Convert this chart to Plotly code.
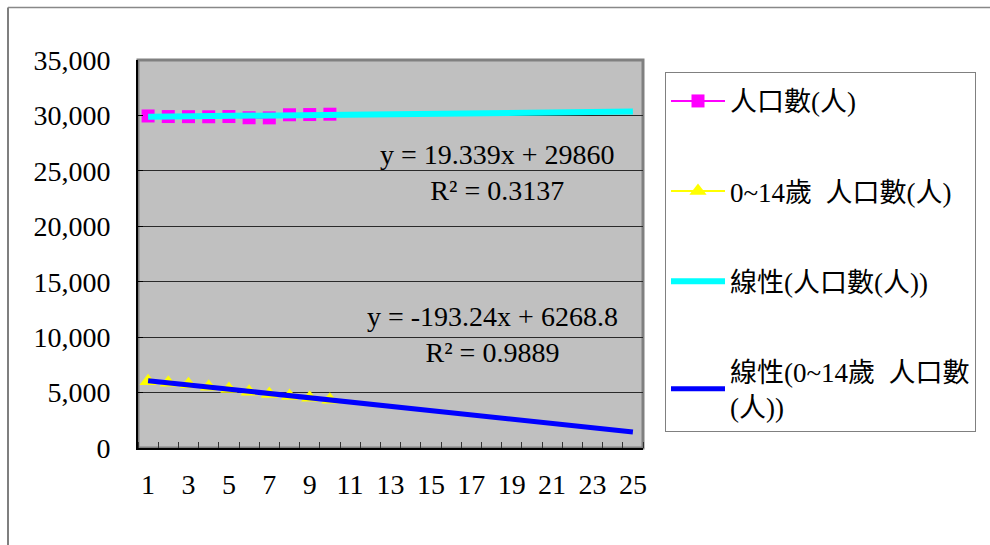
import numpy as np
import plotly.graph_objects as go

# Years index (1..10 observed, trend projected to 25)
periods = list(range(1, 11))
trend_periods = list(range(1, 26))
x_tick_labels = [str(v) for v in range(1, 26, 2)]

# Observed series
total_pop = [29950, 29900, 29890, 29880, 29900, 29790, 29780, 30060, 30080, 30110]
child_pop = [6020, 5880, 5750, 5530, 5330, 5070, 4860, 4680, 4540, 4350]

# Linear trend coefficients (slope, intercept) and R² shown on the chart
total_slope, total_intercept, total_r2 = 19.339, 29860, 0.3137
child_slope, child_intercept, child_r2 = -193.24, 6268.8, 0.9889

total_trend = [total_slope * t + total_intercept for t in trend_periods]
child_trend = [child_slope * t + child_intercept for t in trend_periods]

FONT = "Liberation Serif, Noto Sans CJK TC, serif"

# Plot area in pixels
L, R, T, B = 138, 643, 60, 448
W, H = 990, 545
pw, ph = R - L, B - T


def px_x(px):
    return (px - L) / pw


def px_y(py):
    return (B - py) / ph


fig = go.Figure()

fig.add_trace(go.Scatter(
    x=periods, y=total_pop, name="人口數(人)", mode="lines+markers",
    line=dict(color="#FF00FF", width=2),
    marker=dict(symbol="square", size=13, color="#FF00FF"),
    legendgroup="a",
))
fig.add_trace(go.Scatter(
    x=periods, y=child_pop, name="0~14歲  人口數(人)", mode="lines+markers",
    line=dict(color="#FFFF00", width=2),
    marker=dict(symbol="triangle-up", size=15, color="#FFFF00"),
    legendgroup="b",
))
fig.add_trace(go.Scatter(
    x=trend_periods, y=total_trend, name="線性(人口數(人))", mode="lines",
    line=dict(color="#00FFFF", width=6),
    legendgroup="c",
))
fig.add_trace(go.Scatter(
    x=trend_periods, y=child_trend, name="線性(0~14歲  人口數<br>(人))", mode="lines",
    line=dict(color="#0000FF", width=5),
    legendgroup="d",
))

fig.update_xaxes(
    range=[0.5, 25.5],
    tickmode="array",
    tickvals=list(range(1, 26, 2)),
    ticktext=x_tick_labels,
    ticks="",
    ticklabelstandoff=10,
    showgrid=False,
    zeroline=False,
    showline=True, linecolor="black", linewidth=2,
    minor=dict(tickmode="linear", tick0=0.5, dtick=1, ticks="inside",
               ticklen=6, tickcolor="#333333", tickwidth=1, showgrid=False),
    tickfont=dict(family=FONT, size=28, color="black"),
    fixedrange=True,
)
fig.update_yaxes(
    range=[0, 35000],
    dtick=5000,
    tickformat=",",
    ticks="inside", ticklen=5, tickcolor="black",
    ticklabelstandoff=20,
    showgrid=True, gridcolor="#2a2a2a", gridwidth=1,
    zeroline=False,
    showline=True, linecolor="black", linewidth=2,
    tickfont=dict(family=FONT, size=28, color="black"),
    fixedrange=True,
)

shapes = [
    # plot area frame
    dict(type="rect", xref="paper", yref="paper", x0=0, x1=1, y0=0, y1=1,
         line=dict(color="#808080", width=3), layer="below"),
    # chart outer frame (left and top edges)
    dict(type="line", xref="paper", yref="paper",
         x0=px_x(8), x1=px_x(8), y0=px_y(7.5), y1=px_y(W),
         line=dict(color="#555555", width=1.5)),
    dict(type="line", xref="paper", yref="paper",
         x0=px_x(8), x1=px_x(W + 20), y0=px_y(7.5), y1=px_y(7.5),
         line=dict(color="#888888", width=1.5)),
]

annotations = [
    dict(xref="paper", yref="paper", x=px_x(497), y=px_y(172),
         text=f"y = {total_slope}x + {total_intercept}<br>R² = {total_r2}",
         showarrow=False, align="center", xanchor="center", yanchor="middle",
         font=dict(family=FONT, size=28, color="black")),
    dict(xref="paper", yref="paper", x=px_x(492), y=px_y(334),
         text=f"y = {child_slope}x + {child_intercept}<br>R² = {child_r2}",
         showarrow=False, align="center", xanchor="center", yanchor="middle",
         font=dict(family=FONT, size=28, color="black")),
]

fig.update_layout(
    width=W, height=H,
    margin=dict(l=L, r=W - R, t=T, b=H - B, pad=0, autoexpand=False),
    paper_bgcolor="white",
    plot_bgcolor="#C0C0C0",
    shapes=shapes,
    annotations=annotations,
    showlegend=True,
    legend=dict(
        x=px_x(665), y=px_y(72), xanchor="left", yanchor="top",
        bgcolor="white", bordercolor="#808080", borderwidth=1,
        font=dict(family=FONT, size=27, color="black"),
        title=dict(text=" ", font=dict(size=3)),
        traceorder="grouped", tracegroupgap=52,
        itemwidth=54,
    ),
)

fig.write_html("out.html", config={"displayModeBar": False})
